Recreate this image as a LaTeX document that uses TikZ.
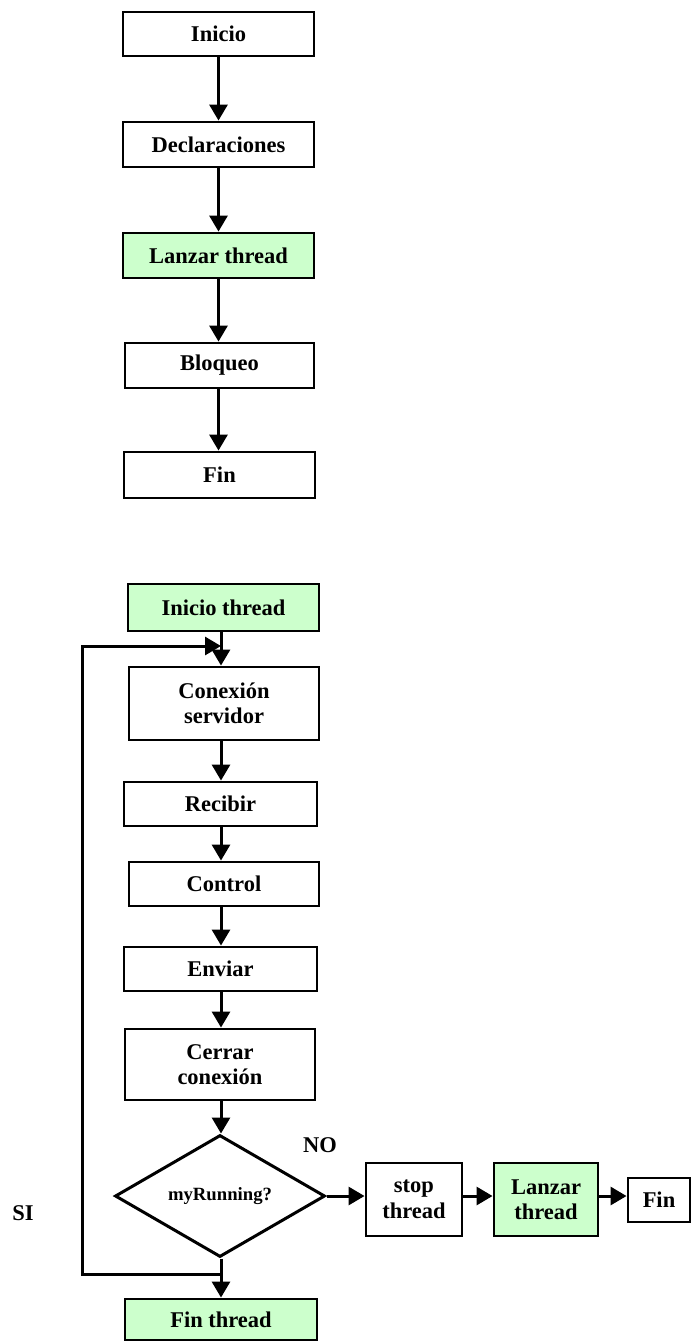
\documentclass[tikz,border=0pt]{standalone}
\usepackage{fontspec}
\setmainfont{Liberation Serif}
\usetikzlibrary{arrows.meta,shapes.geometric}
\definecolor{lightgreen}{HTML}{CCFFCC}

\tikzset{
  proc/.style={draw=black, line width=2.9pt, fill=white, align=center,
    inner sep=0pt, font=\bfseries\fontsize{22.5}{25.5}\selectfont},
  hl/.style={fill=lightgreen},
  flow/.style={line width=3pt, -{Triangle[length=16pt,width=18pt]}},
  decision/.style={diamond, draw=black, line width=3pt, aspect=2, fill=white,
    inner sep=0pt, minimum width=210pt, minimum height=122pt,
    font=\bfseries\fontsize{18.7}{22}\selectfont},
  lbl/.style={font=\bfseries\fontsize{22.5}{26}\selectfont, inner sep=0pt}
}

\begin{document}
\begin{tikzpicture}[x=1pt,y=-1pt]
\useasboundingbox (0,0) rectangle (691,1342);

% main program
\node[proc, minimum width=191pt, minimum height=44pt] (inicio) at (218.5,34) {Inicio};
\node[proc, minimum width=191pt, minimum height=45pt] (decl) at (218.5,144.5) {Declaraciones};
\node[proc, hl, minimum width=191pt, minimum height=45pt] (lanzar) at (218.5,255.5) {Lanzar thread};
\node[proc, minimum width=189pt, minimum height=45pt] (bloqueo) at (219.5,365.5) {Bloqueo};
\node[proc, minimum width=191pt, minimum height=46pt] (fin) at (219.5,475) {Fin};

\draw[flow] (inicio.south) -- (decl.north);
\draw[flow] (decl.south) -- (lanzar.north);
\draw[flow] (lanzar.south) -- (lanzar.south |- bloqueo.north);
\draw[flow] (lanzar.south |- bloqueo.south) -- (lanzar.south |- fin.north);

% thread body
\coordinate (spine) at (221,0);
\node[proc, hl, minimum width=191pt, minimum height=47pt] (ithread) at (223.5,607.5) {Inicio thread};
\node[proc, minimum width=190pt, minimum height=73pt] (conexion) at (224,703.5) {Conexión\\servidor};
\node[proc, minimum width=193pt, minimum height=44pt] (recibir) at (220.5,804) {Recibir};
\node[proc, minimum width=190pt, minimum height=44pt] (control) at (224,884) {Control};
\node[proc, minimum width=193pt, minimum height=44pt] (enviar) at (220.5,969) {Enviar};
\node[proc, minimum width=190pt, minimum height=71pt] (cerrar) at (220,1064.5) {Cerrar\\conexión};
\node[decision] (running) at (220,1196) {myRunning?};
\node[proc, minimum width=96pt, minimum height=73pt] (stop) at (414,1199.5) {stop\\thread};
\node[proc, hl, minimum width=104pt, minimum height=73pt] (lanzar2) at (546,1199.5) {Lanzar\\thread};
\node[proc, minimum width=62pt, minimum height=44pt] (fin2) at (659,1200) {Fin};
\node[proc, hl, minimum width=192pt, minimum height=41pt] (fthread) at (221,1319.5) {Fin thread};

\draw[flow] (ithread.south -| spine) -- (conexion.north -| spine);
\draw[flow] (conexion.south -| spine) -- (recibir.north -| spine);
\draw[flow] (recibir.south -| spine) -- (control.north -| spine);
\draw[flow] (control.south -| spine) -- (enviar.north -| spine);
\draw[flow] (enviar.south -| spine) -- (cerrar.north -| spine);
\draw[flow] (cerrar.south -| spine) -- (running.north -| spine);
\draw[flow] (running.south -| spine) -- (fthread.north -| spine);

% NO branch
\draw[flow] (running.east) -- (running.east -| stop.west);
\draw[flow] (running.east -| stop.east) -- (running.east -| lanzar2.west);
\draw[flow] (running.east -| lanzar2.east) -- (running.east -| fin2.west);

% SI loop back
\coordinate (jb) at (221,1274);
\coordinate (lb) at (82,1274);
\coordinate (lt) at (82,646);
\coordinate (jt) at (221,646);
\draw[flow] (jb) -- (lb) -- (lt) -- (jt);

\node[lbl] (no) at (320,1145) {NO};
\node[lbl] (si) at (23,1213) {SI};
\end{tikzpicture}
\end{document}
